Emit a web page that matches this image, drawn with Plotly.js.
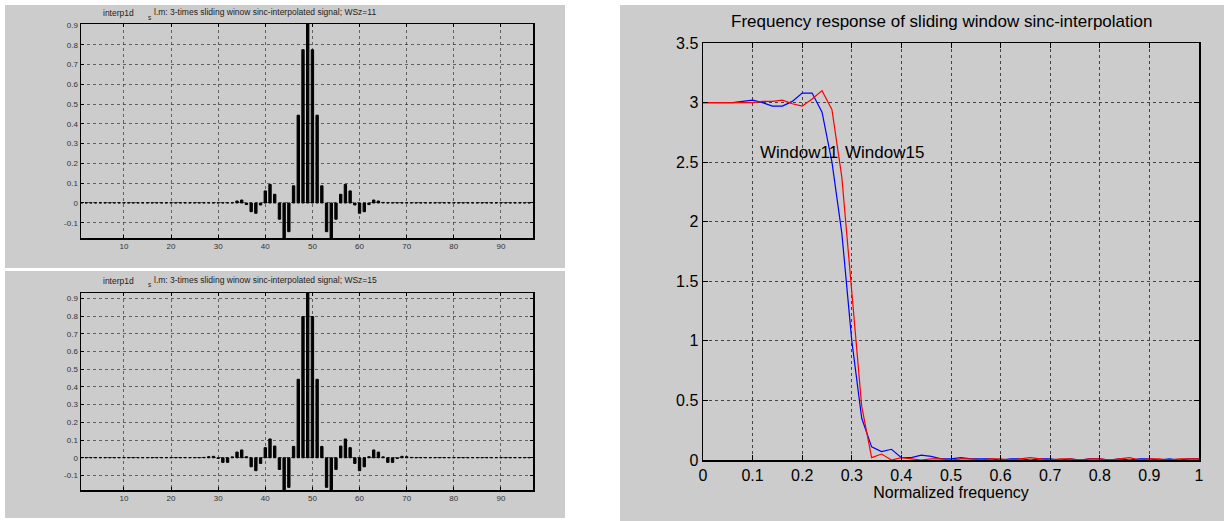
<!DOCTYPE html>
<html>
<head>
<meta charset="utf-8">
<script src="https://cdn.plot.ly/plotly-3.0.1.min.js"></script>
<style>
html,body{margin:0;padding:0;background:#fff;}
#chart{width:1224px;height:521px;}
</style>
</head>
<body>
<div id="chart"></div>
<script>
// ---------- DATA ----------
const sampleIndex = Array.from({length: 96}, (_, i) => i + 1);

const sigWSz11 = [
  0.001,0.001,0.001,0.001,0.001,0.001,0.001,0.001,0.001,0.001,
  0.001,0.001,0.001,0.001,0.001,0.001,0.001,0.001,0.001,0.001,
  0.001,0.001,0.001,0.001,0.001,0.001,0.001,0.001,0.001,0.001,
  0.001,0.001,0.001,0.010,0.015,-0.008,-0.044,-0.052,-0.010,0.061,
  0.094,0.044,-0.082,-0.177,-0.145,0.087,0.444,0.775,0.905,0.775,
  0.444,0.087,-0.145,-0.177,-0.082,0.044,0.094,0.061,-0.010,-0.052,
  -0.044,-0.008,0.015,0.010,0.003,0.001,0.001,0.001,0.001,0.001,
  0.001,0.001,0.001,0.001,0.001,0.001,0.001,0.001,0.001,0.001,
  0.001,0.001,0.001,0.001,0.001,0.001,0.001,0.001,0.001,0.001,
  0.001,0.001,0.001,0.001,0.001,0.001
];

const sigWSz15 = [
  0.001,0.001,0.001,0.001,0.001,0.001,0.001,0.001,0.001,0.001,
  0.001,0.001,0.001,0.001,0.001,0.001,0.001,0.001,0.001,0.001,
  0.001,0.001,0.001,0.001,0.001,0.001,0.002,0.006,0.008,-0.004,
  -0.026,-0.026,0.005,0.032,0.044,0.006,-0.051,-0.073,-0.032,0.057,
  0.106,0.066,-0.066,-0.182,-0.167,0.064,0.443,0.797,0.930,0.797,
  0.443,0.064,-0.167,-0.182,-0.066,0.066,0.106,0.057,-0.032,-0.073,
  -0.051,0.006,0.044,0.032,0.005,-0.026,-0.026,-0.004,0.008,0.006,
  0.002,0.001,0.001,0.001,0.001,0.001,0.001,0.001,0.001,0.001,
  0.001,0.001,0.001,0.001,0.001,0.001,0.001,0.001,0.001,0.001,
  0.001,0.001,0.001,0.001,0.001,0.001
];

const leftYTicks = [-0.1,0,0.1,0.2,0.3,0.4,0.5,0.6,0.7,0.8,0.9];
const leftYLabels = ["-0.1","0","0.1","0.2","0.3","0.4","0.5","0.6","0.7","0.8","0.9"];
const leftXTicks = [10,20,30,40,50,60,70,80,90];

const freq = [0.00,0.02,0.04,0.06,0.08,0.10,0.12,0.14,0.16,0.18,
              0.20,0.22,0.24,0.26,0.28,0.30,0.32,0.34,0.36,0.38,
              0.40,0.42,0.44,0.46,0.48,0.50,0.52,0.54,0.56,0.58,
              0.60,0.62,0.64,0.66,0.68,0.70,0.72,0.74,0.76,0.78,
              0.80,0.82,0.84,0.86,0.88,0.90,0.92,0.94,0.96,0.98,1.00];
const respWindow11 = [3.00,3.00,3.00,3.00,3.01,3.02,3.00,2.97,2.97,3.01,
                      3.08,3.08,2.92,2.50,1.90,1.00,0.35,0.11,0.07,0.09,
                      0.02,0.02,0.04,0.03,0.01,0.01,0.02,0.01,0.01,0.01,
                      0.00,0.01,0.01,0.00,0.01,0.01,0.00,0.01,0.00,0.01,
                      0.01,0.00,0.01,0.00,0.01,0.01,0.00,0.01,0.00,0.01,0.01];
const respWindow15 = [3.00,3.00,3.00,3.00,3.00,3.00,3.01,3.01,3.02,2.99,
                      2.97,3.03,3.10,2.94,2.37,1.40,0.45,0.02,0.05,0.00,
                      0.02,0.01,0.00,0.01,0.01,0.00,0.01,0.01,0.00,0.01,
                      0.01,0.00,0.01,0.02,0.01,0.00,0.01,0.01,0.00,0.01,
                      0.01,0.00,0.01,0.02,0.00,0.01,0.01,0.00,0.01,0.01,0.01];

const rightXTicks = [0,0.1,0.2,0.3,0.4,0.5,0.6,0.7,0.8,0.9,1];
const rightXLabels = ["0","0.1","0.2","0.3","0.4","0.5","0.6","0.7","0.8","0.9","1"];
const rightYTicks = [0,0.5,1,1.5,2,2.5,3,3.5];
const rightYLabels = ["0","0.5","1","1.5","2","2.5","3","3.5"];

// ---------- LAYOUT HELPERS ----------
const W = 1224, H = 521;
const px = x => x / W;
const py = y => 1 - y / H;

const FONT = "Liberation Sans, Arial, Helvetica, sans-serif";

function leftXAxis(anchor) {
  return {
    domain: [px(81), px(533)], anchor: anchor,
    range: [0.9, 96.8], tickvals: leftXTicks, ticktext: leftXTicks.map(String),
    showgrid: true, gridcolor: "#333", griddash: "dot", gridwidth: 0.7,
    showline: true, linecolor: "#000", linewidth: 1.5, mirror: "ticks",
    ticks: "inside", ticklen: 3, tickcolor: "#000", zeroline: false,
    tickfont: {family: FONT, size: 8, color: "#333"}, fixedrange: true
  };
}
function leftYAxis(anchor, top, bottom, rng) {
  return {
    domain: [py(bottom), py(top)], anchor: anchor,
    range: rng, tickvals: leftYTicks, ticktext: leftYLabels,
    showgrid: true, gridcolor: "#333", griddash: "dot", gridwidth: 0.7,
    showline: true, linecolor: "#000", linewidth: 1.5, mirror: "ticks",
    ticks: "inside", ticklen: 3, tickcolor: "#000", zeroline: false,
    tickfont: {family: FONT, size: 8, color: "#333"}, fixedrange: true
  };
}

const barStyle = {color: "#000", line: {color: "#000", width: 1}};

const traces = [
  {type: "bar", x: sampleIndex, y: sigWSz11, xaxis: "x", yaxis: "y",
   width: 0.5, marker: barStyle, showlegend: false, hoverinfo: "x+y"},
  {type: "bar", x: sampleIndex, y: sigWSz15, xaxis: "x2", yaxis: "y2",
   width: 0.5, marker: barStyle, showlegend: false, hoverinfo: "x+y"},
  {type: "scatter", mode: "lines", x: freq, y: respWindow11, xaxis: "x3", yaxis: "y3",
   line: {color: "#0000ff", width: 1.2}, name: "Window11", showlegend: false},
  {type: "scatter", mode: "lines", x: freq, y: respWindow15, xaxis: "x3", yaxis: "y3",
   line: {color: "#ff0000", width: 1.2}, name: "Window15", showlegend: false}
];

const layout = {
  width: W, height: H,
  margin: {l: 0, r: 0, t: 0, b: 0},
  paper_bgcolor: "#ffffff", plot_bgcolor: "#ffffff",
  showlegend: false,
  bargap: 0,
  xaxis: leftXAxis("y"),
  yaxis: leftYAxis("x", 24, 238, [-0.177, 0.905]),
  xaxis2: leftXAxis("y2"),
  yaxis2: leftYAxis("x2", 293, 490, [-0.182, 0.93]),
  xaxis3: {
    domain: [px(703), px(1199)], anchor: "y3",
    range: [0, 1], tickvals: rightXTicks, ticktext: rightXLabels,
    showgrid: true, gridcolor: "#222", griddash: "dot", gridwidth: 0.8,
    showline: true, linecolor: "#000", linewidth: 1.5, mirror: "ticks",
    ticks: "inside", ticklen: 5, tickcolor: "#000", zeroline: false,
    tickfont: {family: FONT, size: 16, color: "#000"},
    title: {text: "Normalized frequency", font: {family: FONT, size: 16, color: "#000"}, standoff: 3},
    fixedrange: true
  },
  yaxis3: {
    domain: [py(460), py(43)], anchor: "x3",
    range: [0, 3.5], tickvals: rightYTicks, ticktext: rightYLabels,
    showgrid: true, gridcolor: "#222", griddash: "dot", gridwidth: 0.8,
    showline: true, linecolor: "#000", linewidth: 1.5, mirror: "ticks",
    ticks: "inside", ticklen: 5, tickcolor: "#000", zeroline: false,
    tickfont: {family: FONT, size: 16, color: "#000"},
    fixedrange: true
  },
  shapes: [
    {type: "rect", xref: "paper", yref: "paper", layer: "below",
     x0: px(5), x1: px(565), y0: py(268), y1: py(5), fillcolor: "#cccccc", line: {width: 0}},
    {type: "rect", xref: "paper", yref: "paper", layer: "below",
     x0: px(5), x1: px(565), y0: py(518), y1: py(271), fillcolor: "#cccccc", line: {width: 0}},
    {type: "rect", xref: "paper", yref: "paper", layer: "below",
     x0: px(620), x1: px(1224), y0: py(521), y1: py(5), fillcolor: "#cccccc", line: {width: 0}}
  ],
  annotations: [
    {xref: "paper", yref: "paper", x: px(101), y: py(13), xanchor: "left", yanchor: "middle",
     text: "interp1d", showarrow: false, font: {family: FONT, size: 8.5, color: "#222"}},
    {xref: "paper", yref: "paper", x: px(146), y: py(17), xanchor: "left", yanchor: "middle",
     text: "s", showarrow: false, font: {family: FONT, size: 6.5, color: "#222"}},
    {xref: "paper", yref: "paper", x: px(152), y: py(12), xanchor: "left", yanchor: "middle",
     text: "l.m: 3-times sliding winow sinc-interpolated signal; WSz=11", showarrow: false,
     font: {family: FONT, size: 8.5, color: "#222"}},
    {xref: "paper", yref: "paper", x: px(101), y: py(281), xanchor: "left", yanchor: "middle",
     text: "interp1d", showarrow: false, font: {family: FONT, size: 8.5, color: "#222"}},
    {xref: "paper", yref: "paper", x: px(146), y: py(284), xanchor: "left", yanchor: "middle",
     text: "s", showarrow: false, font: {family: FONT, size: 6.5, color: "#222"}},
    {xref: "paper", yref: "paper", x: px(152), y: py(280), xanchor: "left", yanchor: "middle",
     text: "l.m: 3-times sliding winow sinc-interpolated signal; WSz=15", showarrow: false,
     font: {family: FONT, size: 8.5, color: "#222"}},
    {xref: "paper", yref: "paper", x: px(941), y: py(22), xanchor: "center", yanchor: "middle",
     text: "Frequency response of sliding window sinc-interpolation", showarrow: false,
     font: {family: FONT, size: 17, color: "#000"}},
    {xref: "x3", yref: "y3", x: 0.11, y: 2.58, xanchor: "left", yanchor: "middle",
     text: "Window11", showarrow: false, font: {family: FONT, size: 17, color: "#000"}},
    {xref: "x3", yref: "y3", x: 0.283, y: 2.58, xanchor: "left", yanchor: "middle",
     text: "Window15", showarrow: false, font: {family: FONT, size: 17, color: "#000"}}
  ]
};

Plotly.newPlot("chart", traces, layout, {displayModeBar: false, staticPlot: true});
</script>
</body>
</html>
